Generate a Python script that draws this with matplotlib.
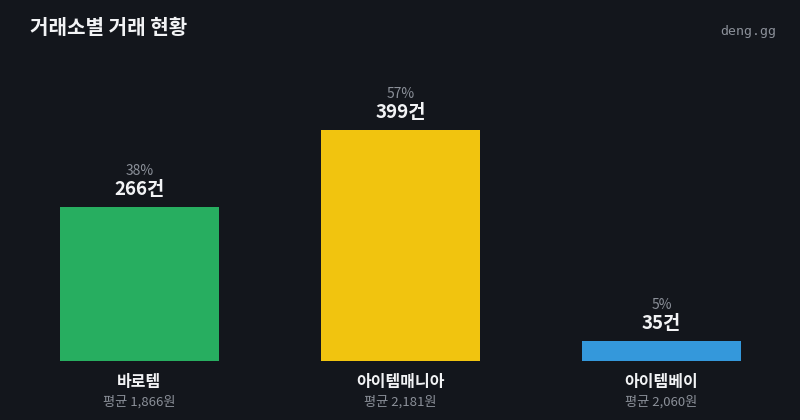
import numpy as np
import matplotlib.pyplot as plt

# DATA
exchanges = ['바로템', '아이템매니아', '아이템베이']
counts = [266, 399, 35]
shares = [38, 57, 5]
avg_price = [1866, 2181, 2060]
colors = ['#27ae60', '#f1c40f', '#3498db']

plt.rcParams['font.family'] = ['Noto Sans CJK KR', 'DejaVu Sans']

bg = '#13161c'
W, H = 800, 420
fig = plt.figure(figsize=(W / 100, H / 100), dpi=100, facecolor=bg)

# axes placed in pixel space: bars bottom at y=361, tallest top at y=130
ax = fig.add_axes([9 / W, (H - 361) / H, 783 / W, 231 / H])
ax.set_facecolor('none')
x = np.arange(len(exchanges))
ax.bar(x, counts, width=159 / 261, color=colors)
ax.set_xlim(-0.5, 2.5)
ax.set_ylim(0, max(counts))
ax.axis('off')

for i in range(len(exchanges)):
    ax.annotate(f'{counts[i]}건', (x[i], counts[i]), xytext=(0, 5.5),
                textcoords='offset points', ha='center', va='bottom',
                color='#f2f3f5', fontsize=13.5, fontweight='bold', clip_on=False)
    ax.annotate(f'{shares[i]}%', (x[i], counts[i]), xytext=(0, 21),
                textcoords='offset points', ha='center', va='bottom',
                color='#8b9099', fontsize=10, clip_on=False)
    ax.annotate(exchanges[i], (x[i], 0), xytext=(0, -9),
                textcoords='offset points', ha='center', va='top',
                color='#f2f3f5', fontsize=11.5, fontweight='bold', clip_on=False)
    ax.annotate(f'평균 {avg_price[i]:,}원', (x[i], 0), xytext=(0, -25),
                textcoords='offset points', ha='center', va='top',
                color='#8b9099', fontsize=9.5, clip_on=False)

fig.text(30 / W, 1 - 28 / H, '거래소별 거래 현황', color='#f2f3f5', fontsize=14.5,
         fontweight='bold', ha='left', va='center')
fig.text(776 / W, 1 - 31 / H, 'deng.gg', color='#8b9099', fontsize=9.5,
         family='DejaVu Sans Mono', ha='right', va='center')

fig.savefig('out.png', dpi=100, facecolor=bg)
